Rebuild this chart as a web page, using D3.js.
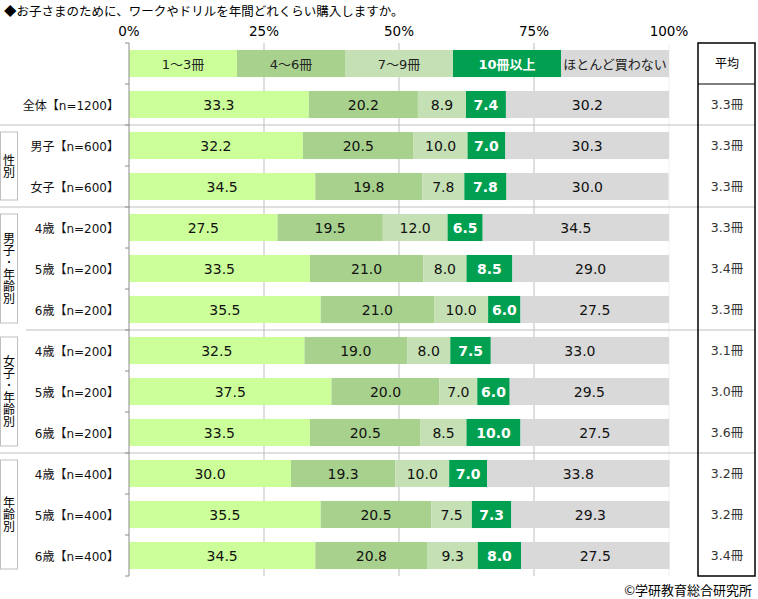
<!DOCTYPE html>
<html>
<head>
<meta charset="utf-8">
<script src="https://cdn.jsdelivr.net/npm/d3@7"></script>
<style>
  body { margin: 0; background: #fff; }
  svg { font-family: "DejaVu Sans", "Noto Sans CJK JP", sans-serif; }
  .vlabel { writing-mode: vertical-rl; text-orientation: upright; font-family: "Noto Sans CJK JP", sans-serif; }
</style>
</head>
<body>
<svg id="chart" width="758" height="599"></svg>
<script>
// data
const rowLabels = ['全体【n=1200】', '男子【n=600】', '女子【n=600】',
  '4歳【n=200】', '5歳【n=200】', '6歳【n=200】',
  '4歳【n=200】', '5歳【n=200】', '6歳【n=200】',
  '4歳【n=400】', '5歳【n=400】', '6歳【n=400】'];
const seriesNames = ['1～3冊', '4～6冊', '7～9冊', '10冊以上', 'ほとんど買わない'];
const seriesColors = ['#ccff99', '#a9d18e', '#c5e0b4', '#00a050', '#d9d9d9'];
const s1to3 = [33.3, 32.2, 34.5, 27.5, 33.5, 35.5, 32.5, 37.5, 33.5, 30.0, 35.5, 34.5];
const s4to6 = [20.2, 20.5, 19.8, 19.5, 21.0, 21.0, 19.0, 20.0, 20.5, 19.3, 20.5, 20.8];
const s7to9 = [8.9, 10.0, 7.8, 12.0, 8.0, 10.0, 8.0, 7.0, 8.5, 10.0, 7.5, 9.3];
const s10plus = [7.4, 7.0, 7.8, 6.5, 8.5, 6.0, 7.5, 6.0, 10.0, 7.0, 7.3, 8.0];
const sNone = [30.2, 30.3, 30.0, 34.5, 29.0, 27.5, 33.0, 29.5, 27.5, 33.8, 29.3, 27.5];
const averages = ['3.3冊', '3.3冊', '3.3冊', '3.3冊', '3.4冊', '3.3冊', '3.1冊', '3.0冊', '3.6冊', '3.2冊', '3.2冊', '3.4冊'];
const groups = [
  { label: '性別', from: 1, to: 2 },
  { label: '男子･年齢別', from: 3, to: 5 },
  { label: '女子･年齢別', from: 6, to: 8 },
  { label: '年齢別', from: 9, to: 11 }
];
const xTicks = [0, 25, 50, 75, 100];

const svg = d3.select('#chart');
const series = [s1to3, s4to6, s7to9, s10plus, sNone];

const x = d3.scaleLinear().domain([0, 100]).range([129, 669]);
// band 0 is the legend bar, then one band per row
const y = d3.scaleBand().domain(d3.range(rowLabels.length + 1)).range([43, 576]).paddingInner(0.34).paddingOuter(0.17);
const step = y.step();
const plotTop = y.range()[0], plotBottom = y.range()[1];
const edge = i => plotTop + i * step;

// title
svg.append('text').attr('x', 4).attr('y', 16).attr('font-size', 12.5).attr('fill', '#000')
  .attr('font-family', '"Noto Sans CJK JP", sans-serif')
  .text('◆お子さまのために、ワークやドリルを年間どれくらい購入しますか。');

// gridlines
svg.append('g').selectAll('line').data(xTicks.slice(1)).enter().append('line')
  .attr('x1', d => x(d)).attr('x2', d => x(d)).attr('y1', plotTop).attr('y2', plotBottom)
  .attr('stroke', d => d === 100 ? '#f0f0f0' : '#bfbfbf').attr('stroke-width', 1);

// top tick labels
svg.append('g').selectAll('text').data(xTicks).enter().append('text')
  .attr('x', d => x(d)).attr('y', 36).attr('text-anchor', 'middle').attr('font-size', 13.5).attr('fill', '#000')
  .text(d => d + '%');

// group separators
const seps = [2, 4, 7, 10];
svg.append('g').selectAll('line').data(seps).enter().append('line')
  .attr('x1', d => d === 7 ? 26 : 0).attr('x2', 755)
  .attr('y1', d => edge(d)).attr('y2', d => edge(d))
  .attr('stroke', '#bfbfbf').attr('stroke-width', 1);

// legend bar (five equal parts)
const legendG = svg.append('g');
seriesNames.forEach((name, k) => {
  legendG.append('rect').attr('x', x(k * 20)).attr('y', y(0)).attr('width', x(20) - x(0)).attr('height', y.bandwidth())
    .attr('fill', seriesColors[k]);
  legendG.append('text').attr('x', x(k * 20 + 10)).attr('y', y(0) + y.bandwidth() / 2 + 5)
    .attr('text-anchor', 'middle').attr('font-size', 13)
    .attr('fill', k === 3 ? '#fff' : '#222').attr('font-weight', k === 3 ? 'bold' : 'normal')
    .text(name);
});

// stacked bars
rowLabels.forEach((lab, i) => {
  let acc = 0;
  const g = svg.append('g');
  series.forEach((s, k) => {
    const v = s[i];
    g.append('rect').attr('x', x(acc)).attr('y', y(i + 1)).attr('width', x(acc + v) - x(acc)).attr('height', y.bandwidth())
      .attr('fill', seriesColors[k]);
    g.append('text').attr('x', x(acc + v / 2)).attr('y', y(i + 1) + y.bandwidth() / 2 + 5.5)
      .attr('text-anchor', 'middle').attr('font-size', 14)
      .attr('fill', k === 3 ? '#fff' : '#111').attr('font-weight', k === 3 ? 'bold' : 'normal')
      .text(v.toFixed(1));
    acc += v;
  });
  // row label
  svg.append('text').attr('x', 119).attr('y', y(i + 1) + y.bandwidth() / 2 + 5)
    .attr('text-anchor', 'end').attr('font-size', 12).attr('fill', '#111').text(lab);
});

// left axis line and ticks
svg.append('line').attr('x1', 129).attr('x2', 129).attr('y1', plotTop).attr('y2', plotBottom).attr('stroke', '#8c8c8c');
svg.append('g').selectAll('line').data(d3.range(rowLabels.length + 2)).enter().append('line')
  .attr('x1', 125).attr('x2', 129).attr('y1', d => edge(d)).attr('y2', d => edge(d)).attr('stroke', '#8c8c8c');

// group label boxes with vertical text
groups.forEach(gr => {
  const y0 = edge(gr.from + 1) + 7, y1 = edge(gr.to + 2) - 7;
  svg.append('rect').attr('x', 0.5).attr('y', y0).attr('width', 17).attr('height', y1 - y0)
    .attr('fill', '#fff').attr('stroke', '#bfbfbf');
  svg.append('text').attr('class', 'vlabel').attr('x', 9).attr('y', (y0 + y1) / 2)
    .attr('text-anchor', 'middle').attr('font-size', 12).attr('fill', '#000').text(gr.label);
});

// average table
svg.append('rect').attr('x', 698).attr('y', plotTop).attr('width', 57).attr('height', plotBottom - plotTop)
  .attr('fill', 'none').attr('stroke', '#000').attr('stroke-width', 1.5);
svg.append('line').attr('x1', 698).attr('x2', 755).attr('y1', edge(1)).attr('y2', edge(1)).attr('stroke', '#000').attr('stroke-width', 1.2);
svg.append('text').attr('x', 727).attr('y', y(0) + y.bandwidth() / 2 + 4.5).attr('text-anchor', 'middle')
  .attr('font-size', 12).attr('fill', '#000').text('平均');
svg.append('g').selectAll('text').data(averages).enter().append('text')
  .attr('x', 727).attr('y', (d, i) => y(i + 1) + y.bandwidth() / 2 + 4.5).attr('text-anchor', 'middle')
  .attr('font-size', 12.5).attr('fill', '#333').text(d => d);

// footer
svg.append('text').attr('x', 752).attr('y', 595).attr('text-anchor', 'end').attr('font-size', 13).attr('fill', '#000')
  .attr('font-family', '"Noto Sans CJK JP", sans-serif')
  .text('©学研教育総合研究所');
</script>
</body>
</html>
